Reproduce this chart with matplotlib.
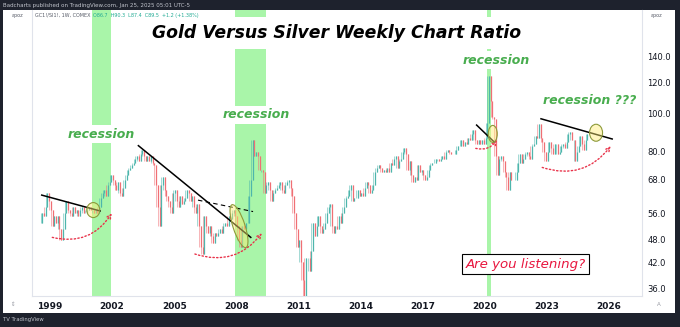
import numpy as np
import matplotlib
matplotlib.use("Agg")
import matplotlib.pyplot as plt
from matplotlib.patches import Ellipse, Rectangle
from matplotlib.transforms import ScaledTranslation
from matplotlib.ticker import FixedLocator, NullLocator, FormatStrFormatter

# Gold / silver ratio, monthly closes, Jul 1998 .. Jan 2025
start_year, start_month = 1998, 7
ratio = [
    53, 56, 55, 58, 63, 60,                                  # 1998 (Jul-Dec)
    57, 52, 55, 53, 55, 51, 48, 51, 56, 60, 57, 56,          # 1999
    55, 58, 56, 57, 55, 57, 58, 56, 56, 57, 58, 57,          # 2000
    57, 56, 57, 56, 58, 61, 63, 64, 62, 66, 67, 70,          # 2001
    68, 66, 64, 67, 63, 62, 65, 68, 70, 72, 73, 74,          # 2002
    75, 77, 78, 76, 79, 81, 78, 76, 78, 76, 78, 75,          # 2003
    74, 66, 58, 52, 66, 69, 64, 62, 60, 58, 56, 63,          # 2004
    64, 60, 58, 62, 59, 60, 61, 64, 63, 60, 62, 58,          # 2005
    56, 59, 52, 46, 44, 55, 52, 50, 52, 49, 47, 50,          # 2006
    49, 50, 51, 50, 52, 53, 52, 55, 54, 56, 57, 55,          # 2007
    52, 48, 46, 52, 51, 53, 53, 62, 68, 86, 78, 80,          # 2008
    78, 72, 72, 71, 63, 66, 67, 64, 60, 63, 64, 65,          # 2009
    66, 67, 64, 63, 66, 67, 68, 65, 62, 56, 51, 46,          # 2010
    48, 42, 38, 34, 43, 43, 40, 45, 53, 49, 52, 55,          # 2011
    52, 50, 51, 53, 56, 58, 59, 52, 50, 52, 51, 55,          # 2012
    53, 56, 58, 61, 62, 64, 66, 60, 61, 61, 64, 62,          # 2013
    63, 62, 65, 67, 66, 63, 64, 66, 71, 73, 74, 73,          # 2014
    71, 72, 71, 73, 71, 75, 74, 77, 78, 73, 76, 77,          # 2015
    80, 82, 79, 72, 76, 70, 67, 69, 68, 74, 71, 72,          # 2016
    70, 68, 69, 72, 74, 75, 75, 77, 77, 76, 77, 78,          # 2017
    77, 80, 81, 80, 79, 79, 79, 81, 83, 83, 86, 83,          # 2018
    85, 84, 87, 86, 89, 91, 86, 84, 86, 84, 86, 84,          # 2019
    87, 95, 125, 108, 98, 97, 78, 70, 77, 78, 76, 71,        # 2020
    69, 64, 71, 68, 68, 68, 71, 75, 79, 75, 77, 79,          # 2021
    80, 78, 77, 83, 84, 88, 87, 94, 87, 85, 80, 76,          # 2022
    80, 85, 82, 79, 84, 84, 79, 80, 83, 84, 82, 85,          # 2023
    89, 90, 86, 86, 76, 80, 83, 88, 84, 81, 86, 89,          # 2024
    89,                                                      # 2025
]

# recession periods (decimal years)
recessions = [(2001.03, 2001.95), (2007.94, 2009.42), (2020.13, 2020.29)]

# drawn trendlines: (x0, y0, x1, y1)
trendlines = [
    (1998.60, 62.2, 2001.42, 56.7),
    (2003.27, 83.0, 2008.70, 48.6),
    (2019.61, 93.6, 2020.45, 84.9),
    (2022.72, 97.1, 2026.16, 86.3),
]
neckline = (2006.15, 60.4, 2008.81, 56.5)

# dotted "bounce" arrows: (x0, y0, x1, y1)
bounces = [
    (1999.11, 48.6, 2001.98, 55.9),
    (2006.00, 44.1, 2009.23, 49.8),
    (2019.57, 81.7, 2020.58, 85.8),
    (2022.78, 73.1, 2026.09, 82.8),
]

# breakout circles: (x, y, width px, height px, angle)
circles = [
    (2001.09, 57.0, 13, 15, 0),
    (2008.13, 51.9, 12, 45, 18),
    (2020.39, 88.9, 9, 17, 0),
    (2025.38, 89.5, 13, 17, 0),
]

labels = [
    ("recession", 2001.46, 88.8),
    ("recession", 2008.95, 99.3),
    ("recession", 2020.55, 136.8),
    ("recession ???", 2025.09, 108.3),
]

year_ticks = list(range(1999, 2027, 3))
price_ticks = [36, 42, 48, 56, 68, 80, 100, 120, 140]

W, H = 680, 327
fig = plt.figure(figsize=(W / 100, H / 100), dpi=100, facecolor="#1e222d")

# white chart panel
fig.patches.append(Rectangle((3 / W, 1 - 313 / H), 672 / W, 303 / H,
                             transform=fig.transFigure, facecolor="white",
                             edgecolor="none", zorder=-5))

ax = fig.add_axes([32 / W, 1 - 296 / H, 610 / W, 286 / H])
ax.set_zorder(2)
ax.set_facecolor("white")
ax.set_yscale("log")
ax.set_xlim(1998.13, 2027.6)
ax.set_ylim(34.52, 183.2)

# candles: body runs from the previous close to the close,
# the wick spans the neighbouring closes
closes = np.array(ratio, dtype=float)
n = len(closes)
t = start_year + (start_month - 1 + np.arange(n) + 0.5) / 12
opens = np.r_[closes[0], closes[:-1]]
nexts = np.r_[closes[1:], closes[-1]]
body_lo = np.minimum(opens, closes)
body_hi = np.maximum(opens, closes)
wick_lo = np.minimum(body_lo, nexts)
wick_hi = np.maximum(body_hi, nexts)
up = closes >= opens
colors = np.where(up, "#4db6ac", "#f06f74")
ax.vlines(t, wick_lo, wick_hi, colors=colors, lw=0.45, alpha=0.8, zorder=3)
ax.vlines(t, body_lo, body_hi, colors=colors, lw=0.9, zorder=3)

for a, b in recessions:
    ax.axvspan(a, b, color="#a9f5a9", lw=0, zorder=1)

for x0, y0, x1, y1 in trendlines:
    ax.plot([x0, x1], [y0, y1], color="black", lw=1.1, zorder=5)
x0, y0, x1, y1 = neckline
ax.plot([x0, x1], [y0, y1], color="black", lw=0.8, ls=(0, (4, 3)), zorder=5)

for x0, y0, x1, y1 in bounces:
    ax.annotate("", xy=(x1, y1), xytext=(x0, y0),
                arrowprops=dict(arrowstyle="->", linestyle=":", color="#e8334a",
                                lw=1.0, mutation_scale=7, shrinkA=0, shrinkB=0,
                                connectionstyle="arc3,rad=0.35"),
                zorder=6)

for x, y, w, h, ang in circles:
    tr = fig.dpi_scale_trans + ScaledTranslation(x, y, ax.transData)
    ax.add_patch(Ellipse((0, 0), w / 100, h / 100, angle=ang, transform=tr,
                         facecolor=(1.0, 0.93, 0.45, 0.45), edgecolor="#8d9a3a",
                         lw=0.8, zorder=6))

for s, x, y in labels:
    ax.text(x, y, s, ha="center", va="center", color="#48ad4e", fontsize=9,
            fontweight="bold", fontstyle="italic", zorder=7,
            bbox=dict(facecolor="white", edgecolor="none", pad=1.5))

ax.text(2012.82, 160, "Gold Versus Silver Weekly Chart Ratio", ha="center",
        va="center", fontsize=12.4, fontweight="bold", fontstyle="italic",
        color="black", zorder=7,
        bbox=dict(facecolor="white", edgecolor="none", pad=5))

ax.text(2021.99, 41.6, "Are you listening?", ha="center", va="center",
        fontsize=9.6, fontstyle="italic", color="#e8173f", zorder=7,
        bbox=dict(facecolor="white", edgecolor="black", lw=0.8, pad=2.5))

# axes styling
ax.spines["top"].set_visible(False)
for side in ["left", "right", "bottom"]:
    ax.spines[side].set_color("#e0e3eb")
    ax.spines[side].set_linewidth(0.8)
ax.yaxis.tick_right()
ax.yaxis.set_major_locator(FixedLocator(price_ticks))
ax.yaxis.set_minor_locator(NullLocator())
ax.yaxis.set_major_formatter(FormatStrFormatter("%.1f"))
ax.tick_params(axis="y", length=0, pad=4, labelsize=6, labelcolor="#131722")
ax.set_xticks(year_ticks)
ax.set_xticklabels([str(y) for y in year_ticks], fontweight="bold")
ax.tick_params(axis="x", length=0, pad=4, labelsize=6.5, labelcolor="#131722")

# header, footer and panel captions
fig.text(3 / W, 1 - 5 / H, "Badcharts published on TradingView.com, Jan 25, 2025 05:01 UTC-5",
         fontsize=4, color="#c3c6ce", va="center")
fig.text(3 / W, 1 - 320 / H, "TV TradingView", fontsize=3.8, color="#c3c6ce", va="center")
fig.text(12 / W, 1 - 15 / H, "apoz", fontsize=3.5, color="#555a66", va="center")
fig.text(651 / W, 1 - 15 / H, "apoz", fontsize=3.5, color="#555a66", va="center")
fig.text(35 / W, 1 - 15 / H, "GC1!/SI1!, 1W, COMEX", fontsize=3.5, color="#555a66", va="center")
fig.text(93 / W, 1 - 15 / H, "O86.7  H90.3  L87.4  C89.5  +1.2 (+1.38%)", fontsize=3.5,
         color="#22ab94", va="center")
fig.text(13 / W, 1 - 304 / H, "\u21d5", fontsize=4, color="#9598a1", va="center", ha="center")
fig.text(659 / W, 1 - 304 / H, "A", fontsize=4, color="#9598a1", va="center", ha="center")

fig.savefig("out.png", dpi=100, facecolor=fig.get_facecolor())
